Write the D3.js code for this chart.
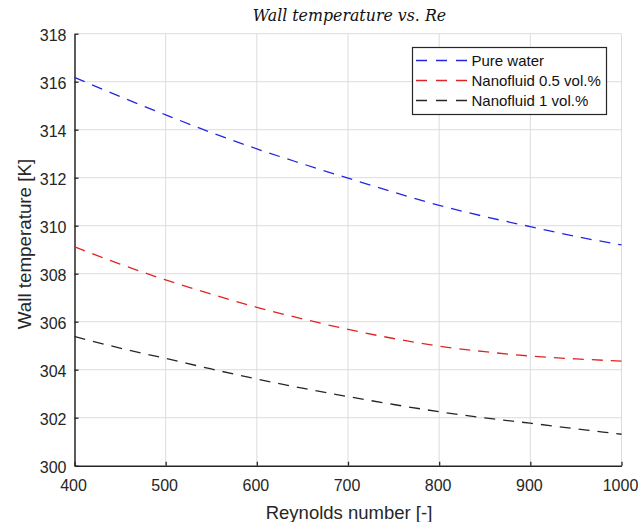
<!DOCTYPE html>
<html><head><meta charset="utf-8">
<script src="https://cdn.jsdelivr.net/npm/d3@7"></script>
<style>body{margin:0;background:#fff}svg{display:block}</style>
</head><body>
<svg id="c" width="640" height="522"></svg>
<script>
const reynolds = [400, 450, 500, 550, 600, 650, 700, 750, 800, 850, 900, 950, 1000];
const pureWater = [316.18, 315.38, 314.62, 313.88, 313.2, 312.58, 311.98, 311.4, 310.85, 310.38, 309.96, 309.55, 309.2];
const nano05 = [309.12, 308.4, 307.74, 307.15, 306.6, 306.12, 305.68, 305.3, 304.98, 304.75, 304.57, 304.45, 304.36];
const nano1 = [305.38, 304.9, 304.47, 304.03, 303.61, 303.23, 302.88, 302.55, 302.25, 301.99, 301.77, 301.54, 301.31];
const xTicks = [400, 500, 600, 700, 800, 900, 1000];
const yTicks = [300, 302, 304, 306, 308, 310, 312, 314, 316, 318];
const seriesNames = ["Pure water", "Nanofluid 0.5 vol.%", "Nanofluid 1 vol.%"];
const seriesColors = ["#2626e0", "#e02424", "#262626"];
const seriesData = [pureWater, nano05, nano1];

const svg = d3.select("#c");
const L = 74.5, R = 621.5, T = 33.7, B = 465.7;
const x = d3.scaleLinear().domain([400, 1000]).range([L, R]);
const y = d3.scaleLinear().domain([300, 318]).range([B, T]);
const axisColor = "#262626";
const font = "'Liberation Sans', Arial, sans-serif";

// grid
const g = svg.append("g");
g.selectAll("line.gx").data(xTicks.slice(1)).join("line")
  .attr("x1", d => x(d)).attr("x2", d => x(d)).attr("y1", T).attr("y2", B)
  .attr("stroke", "#dcdcdc").attr("stroke-width", 1);
g.selectAll("line.gy").data(yTicks.slice(1)).join("line")
  .attr("x1", L).attr("x2", R).attr("y1", d => y(d)).attr("y2", d => y(d))
  .attr("stroke", "#dcdcdc").attr("stroke-width", 1);

// axes
const xAxis = d3.axisBottom(x).tickValues(xTicks).tickSizeInner(-4).tickSizeOuter(0).tickPadding(13.6).tickFormat(d3.format("d"));
const yAxis = d3.axisLeft(y).tickValues(yTicks).tickSizeInner(-4).tickSizeOuter(0).tickPadding(8).tickFormat(d3.format("d"));
const gx = svg.append("g").attr("transform", `translate(0,${B})`).call(xAxis);
const gy = svg.append("g").attr("transform", `translate(${L},0)`).call(yAxis);
[gx, gy].forEach(a => {
  a.select(".domain").attr("stroke", axisColor).attr("stroke-width", 1.5);
  a.selectAll(".tick line").attr("stroke", axisColor).attr("stroke-width", 1.3);
  a.selectAll(".tick text").attr("fill", axisColor).attr("font-family", font).attr("font-size", 16);
});
gx.selectAll(".tick text").attr("dx", -1.5);
gy.selectAll(".tick text").attr("dy", "0.42em");

// lines
const line = d3.line().x((d, i) => x(reynolds[i])).y(d => y(d)).curve(d3.curveMonotoneX);
seriesData.forEach((s, k) => {
  svg.append("path").datum(s).attr("d", line)
    .attr("fill", "none").attr("stroke", seriesColors[k])
    .attr("stroke-width", 1.3).attr("stroke-dasharray", "11,8");
});

// title
svg.append("text").attr("x", 349.5).attr("y", 21).attr("text-anchor", "middle")
  .attr("font-family", "'DejaVu Serif', 'Liberation Serif', serif").attr("font-style", "italic")
  .attr("font-size", 15.8).attr("fill", "#111").text("Wall temperature vs. Re");

// axis labels
svg.append("text").attr("x", 349).attr("y", 518.5).attr("text-anchor", "middle")
  .attr("font-family", font).attr("font-size", 18.5).attr("fill", axisColor).text("Reynolds number [-]");
svg.append("text").attr("transform", `translate(31,244) rotate(-90)`).attr("text-anchor", "middle")
  .attr("font-family", font).attr("font-size", 18.8).attr("fill", axisColor).text("Wall temperature [K]");

// legend
const lg = svg.append("g");
lg.append("rect").attr("x", 412.5).attr("y", 47.5).attr("width", 194).attr("height", 67)
  .attr("fill", "#fff").attr("stroke", "#262626").attr("stroke-width", 1.2);
seriesNames.forEach((n, k) => {
  const yy = 60.5 + k * 20;
  lg.append("line").attr("x1", 416).attr("x2", 467).attr("y1", yy).attr("y2", yy)
    .attr("stroke", seriesColors[k]).attr("stroke-width", 1.3).attr("stroke-dasharray", "11,9");
  lg.append("text").attr("x", 471.5).attr("y", yy).attr("dy", "0.36em")
    .attr("font-family", font).attr("font-size", 15).attr("fill", "#111").text(n);
});
</script>
</body></html>
